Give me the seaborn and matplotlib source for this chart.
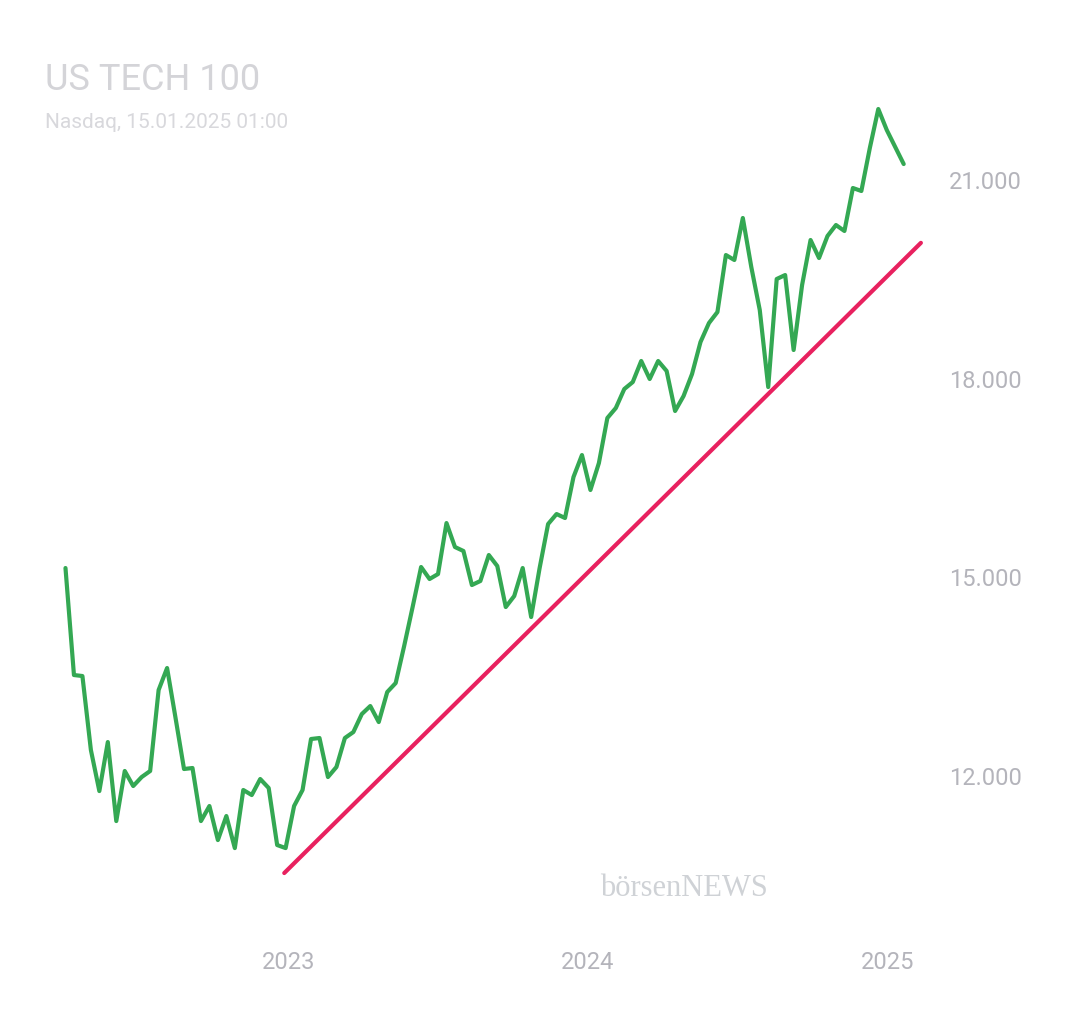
import matplotlib
matplotlib.use("Agg")
import matplotlib.pyplot as plt
import seaborn as sns
import pandas as pd

values = [15141,13525,13510,12393,11773,12513,11320,12076,11849,11985,12076,13299,13631,12876,12106,12121,
          11320,11547,11033,11396,10912,11789,11713,11955,11819,10958,10912,11547,11789,12559,12574,11985,
          12136,12574,12664,12936,13057,12815,13268,13404,13963,14552,15156,14975,15050,15820,15458,15398,
          14884,14945,15337,15171,14552,14718,15141,14401,15141,15805,15956,15896,16515,16847,16319,16726,
          17406,17557,17844,17949,18267,17995,18267,18116,17512,17738,18070,18553,18840,19006,19867,19792,
          20426,19686,19037,17874,19505,19565,18433,19414,20094,19822,20154,20320,20230,20879,20834,21483,
          22072,21755,21498,21241]
dates = pd.date_range(start="2022-04-04", end="2025-01-21", periods=len(values))
trend_dates = pd.to_datetime(["2022-12-27", "2025-02-11"])
trend_values = [10535, 20051]
yticks = [12000, 15000, 18000, 21000]
ytick_labels = ["12.000", "15.000", "18.000", "21.000"]
xticks = pd.to_datetime(["2023-01-01", "2024-01-01", "2025-01-01"])
xtick_labels = ["2023", "2024", "2025"]

sns.set_style("white")
plt.rcParams['font.family'] = ['Roboto', 'DejaVu Sans']
fig = plt.figure(figsize=(10.8, 10.13), dpi=100)
ax = fig.add_axes([45/1080, 1-930/1013, 880/1080, 830/1013])
df = pd.DataFrame({"date": dates, "value": values})
sns.lineplot(data=df, x="date", y="value", ax=ax, color="#34a853", linewidth=3)
ax.plot(trend_dates, trend_values, color="#e8215f", linewidth=3)
ax.set_xlim(pd.Timestamp("2022-03-10"), pd.Timestamp("2025-02-16"))
ax.set_ylim(9675, 22208)
for s in ax.spines.values():
    s.set_visible(False)
ax.yaxis.tick_right()
ax.set_yticks(yticks)
ax.set_yticklabels(ytick_labels)
ax.set_xticks(xticks)
ax.set_xticklabels(xtick_labels)
ax.tick_params(axis="both", length=0, colors="#b4b4bb", labelsize=17)
ax.tick_params(axis="y", pad=17)
ax.tick_params(axis="x", pad=15)
ax.set_xlabel("")
ax.set_ylabel("")
fig.text(45/1080, 1-80/1013, "US TECH 100", fontsize=26, color="#d4d4d8", va="center")
fig.text(45/1080, 1-122/1013, "Nasdaq, 15.01.2025 01:00", fontsize=15, color="#d8d8dc", va="center")
fig.text(600/1080, 1-888/1013, "börsenNEWS", fontsize=22, color="#cfd2d6", va="center",
         family=["Liberation Serif", "DejaVu Serif"])
fig.savefig("out.png", dpi=100, facecolor="white")
